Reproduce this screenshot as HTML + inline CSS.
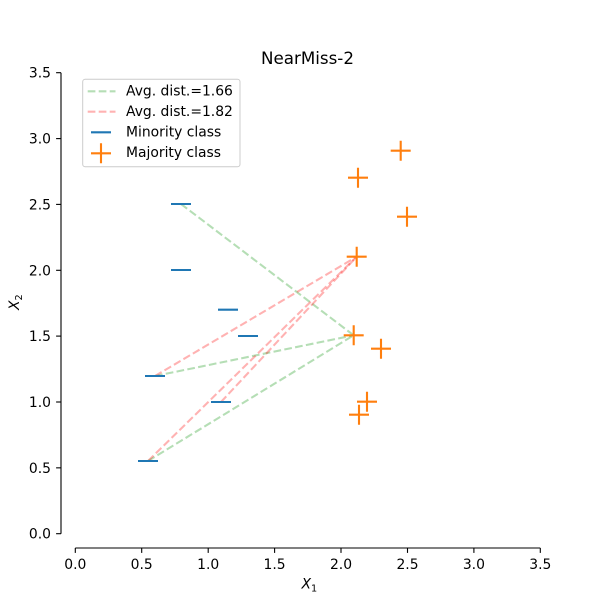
<!DOCTYPE html>
<html><head><meta charset="utf-8"><style>
html,body{margin:0;padding:0;background:#fff;}
svg{display:block;}
text{font-family:"DejaVu Sans","Liberation Sans",sans-serif;fill:#000;}
</style></head><body>
<svg width="600" height="600" viewBox="0 0 600 600" xmlns="http://www.w3.org/2000/svg">
<rect width="600" height="600" fill="#fff"/>
<!-- title -->
<text x="307.5" y="64" font-size="16.7" text-anchor="middle">NearMiss-2</text>

<!-- y spine and ticks -->
<g stroke="#000" stroke-width="1.1" fill="none">
<line x1="61" y1="72.7" x2="61" y2="533.7"/>
<line x1="56.1" y1="533.7" x2="61" y2="533.7"/>
<line x1="56.1" y1="467.85" x2="61" y2="467.85"/>
<line x1="56.1" y1="402.0" x2="61" y2="402.0"/>
<line x1="56.1" y1="336.1" x2="61" y2="336.1"/>
<line x1="56.1" y1="270.3" x2="61" y2="270.3"/>
<line x1="56.1" y1="204.4" x2="61" y2="204.4"/>
<line x1="56.1" y1="138.6" x2="61" y2="138.6"/>
<line x1="56.1" y1="72.7" x2="61" y2="72.7"/>
<!-- x spine and ticks -->
<line x1="75.3" y1="548" x2="540.3" y2="548"/>
<line x1="75.3" y1="548" x2="75.3" y2="552.9"/>
<line x1="141.7" y1="548" x2="141.7" y2="552.9"/>
<line x1="208.2" y1="548" x2="208.2" y2="552.9"/>
<line x1="274.6" y1="548" x2="274.6" y2="552.9"/>
<line x1="341.0" y1="548" x2="341.0" y2="552.9"/>
<line x1="407.5" y1="548" x2="407.5" y2="552.9"/>
<line x1="473.9" y1="548" x2="473.9" y2="552.9"/>
<line x1="540.3" y1="548" x2="540.3" y2="552.9"/>
</g>
<g font-size="13.9" text-anchor="end">
<text x="51" y="538.7">0.0</text>
<text x="51" y="472.85">0.5</text>
<text x="51" y="407.0">1.0</text>
<text x="51" y="341.1">1.5</text>
<text x="51" y="275.3">2.0</text>
<text x="51" y="209.4">2.5</text>
<text x="51" y="143.6">3.0</text>
<text x="51" y="77.7">3.5</text>
</g>
<g font-size="13.9" text-anchor="middle">
<text x="75.3" y="569">0.0</text>
<text x="141.7" y="569">0.5</text>
<text x="208.2" y="569">1.0</text>
<text x="274.6" y="569">1.5</text>
<text x="341.0" y="569">2.0</text>
<text x="407.5" y="569">2.5</text>
<text x="473.9" y="569">3.0</text>
<text x="540.3" y="569">3.5</text>
</g>
<!-- axis labels -->
<text x="301.5" y="588.5" font-size="13.9" font-style="italic">X<tspan font-style="normal" font-size="9.7" dy="3">1</tspan></text>
<g transform="translate(19,303) rotate(-90)">
<text x="-7" y="0" font-size="13.9" font-style="italic">X<tspan font-style="normal" font-size="9.7" dy="3">2</tspan></text>
</g>

<!-- dashed lines -->
<g stroke-width="2.08" stroke-dasharray="7.7 3.3" fill="none">
<g stroke="#2ca02c" stroke-opacity="0.35">
<line x1="181" y1="204" x2="353.7" y2="335.3"/>
<line x1="155" y1="376" x2="353.7" y2="335.3"/>
<line x1="148" y1="461" x2="353.7" y2="335.3"/>
</g>
<g stroke="#ff0000" stroke-opacity="0.3">
<line x1="155" y1="376" x2="356.7" y2="256.7"/>
<line x1="221" y1="402" x2="356.7" y2="256.7"/>
<line x1="148" y1="461" x2="356.7" y2="256.7"/>
</g>
</g>

<!-- minority markers -->
<g stroke="#1f77b4" stroke-width="2.1">
<line x1="171" y1="204" x2="191" y2="204"/>
<line x1="171" y1="270" x2="191" y2="270"/>
<line x1="218" y1="309.7" x2="238" y2="309.7"/>
<line x1="238" y1="336" x2="258" y2="336"/>
<line x1="145" y1="376" x2="165" y2="376"/>
<line x1="211" y1="402" x2="231" y2="402"/>
<line x1="138" y1="461" x2="158" y2="461"/>
</g>

<!-- majority markers -->
<g stroke="#ff7f0e" stroke-width="2.1">
<path d="M390.7 150.7h20M400.7 140.7v20"/>
<path d="M348 177.7h20M358 167.7v20"/>
<path d="M397 216.7h20M407 206.7v20"/>
<path d="M346.7 256.7h20M356.7 246.7v20"/>
<path d="M343.7 335.3h20M353.7 325.3v20"/>
<path d="M371 348.7h20M381 338.7v20"/>
<path d="M357 401.7h20M367 391.7v20"/>
<path d="M349 414.7h20M359 404.7v20"/>
</g>

<!-- legend -->
<rect x="82.7" y="79.3" width="157.3" height="87.4" rx="2.5" ry="2.5" fill="#fff" fill-opacity="0.8" stroke="#cccccc" stroke-width="1"/>
<g stroke-width="2.08" stroke-dasharray="7.7 3.3" fill="none">
<line x1="87.7" y1="91.3" x2="115.5" y2="91.3" stroke="#2ca02c" stroke-opacity="0.35"/>
<line x1="87.7" y1="111.7" x2="115.5" y2="111.7" stroke="#ff0000" stroke-opacity="0.3"/>
</g>
<line x1="91" y1="132.3" x2="111" y2="132.3" stroke="#1f77b4" stroke-width="2.1"/>
<path d="M91 153.3h20M101 143.3v20" stroke="#ff7f0e" stroke-width="2.1"/>
<g font-size="13.9">
<text x="126" y="95.5">Avg. dist.=1.66</text>
<text x="126" y="116">Avg. dist.=1.82</text>
<text x="126" y="136.6">Minority class</text>
<text x="126" y="157.2">Majority class</text>
</g>
</svg>
</body></html>
